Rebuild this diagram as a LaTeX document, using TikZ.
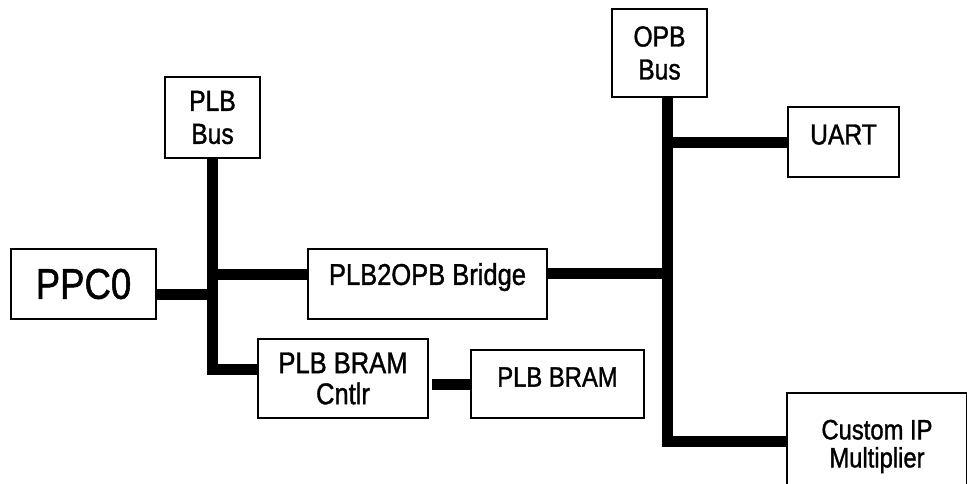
\documentclass[tikz,border=0pt]{standalone}
\usepackage{fontspec}
\setmainfont{Liberation Sans}[FakeStretch=0.85,FakeBold=1.2]
\tikzset{
  bloc/.style={draw, line width=1.5pt, inner sep=0pt, align=center, font=\fontsize{28}{32}\selectfont},
  bus/.style={line width=11pt}
}
\begin{document}
\begin{tikzpicture} [x=1pt,y=-1pt]
    \path [use as bounding box, clip] (0,0) rectangle (967,483);
    % blocs
    \node [bloc, minimum width=145pt, minimum height=70pt, font=\fontsize{43}{48}\selectfont] (ppc) at (83.5,284) {PPC0};
    \node [bloc, minimum width=95pt, minimum height=81pt, font=\fontsize{29}{33}\selectfont] (plbbus) at (212.5,117.5) {PLB\\Bus};
    \node [bloc, minimum width=95pt, minimum height=88pt, font=\fontsize{29}{33}\selectfont] (opbbus) at (659.5,53) {OPB\\Bus};
    \node [bloc, minimum width=111pt, minimum height=70pt, text depth=15pt, font=\fontsize{29}{32}\selectfont] (uart) at (843.5,142) {UART};
    \node [bloc, minimum width=239pt, minimum height=70pt, text depth=20pt, font=\fontsize{30}{32}\selectfont] (bridge) at (427.5,284) {PLB2OPB Bridge};
    \node [bloc, minimum width=170pt, minimum height=79pt, font=\fontsize{30}{31}\selectfont] (cntlr) at (343,378.5) {PLB BRAM\\Cntlr};
    \node [bloc, minimum width=173pt, minimum height=68pt, text depth=14pt] (bram) at (557.5,384) {PLB BRAM};
    \node [bloc, minimum width=180pt, minimum height=107pt, font=\fontsize{28}{28}\selectfont] (custom) at (877,446.5) {Custom IP\\Multiplier};
    % bus PLB
    \draw [bus] (plbbus.south) |- ([yshift=9.5pt]cntlr.west);
    \draw [bus] ([yshift=-10pt]ppc.east) -- ([yshift=-10pt]ppc.east -| plbbus.south);
    \draw [bus] ([yshift=10pt]bridge.west) -- ([yshift=10pt]bridge.west -| plbbus.south);
    \draw [bus] ([xshift=3pt]cntlr.east |- bram.west) -- (bram.west);
    % bus OPB
    \coordinate (opbx) at ([xshift=8pt]opbbus.south);
    \draw [bus] (opbx) |- ([yshift=5.5pt]custom.west);
    \draw [bus] ([yshift=11pt]bridge.east) -- ([yshift=11pt]bridge.east -| opbx);
    \draw [bus] (opbx |- uart.west) -- (uart.west);
\end{tikzpicture}
\end{document}
